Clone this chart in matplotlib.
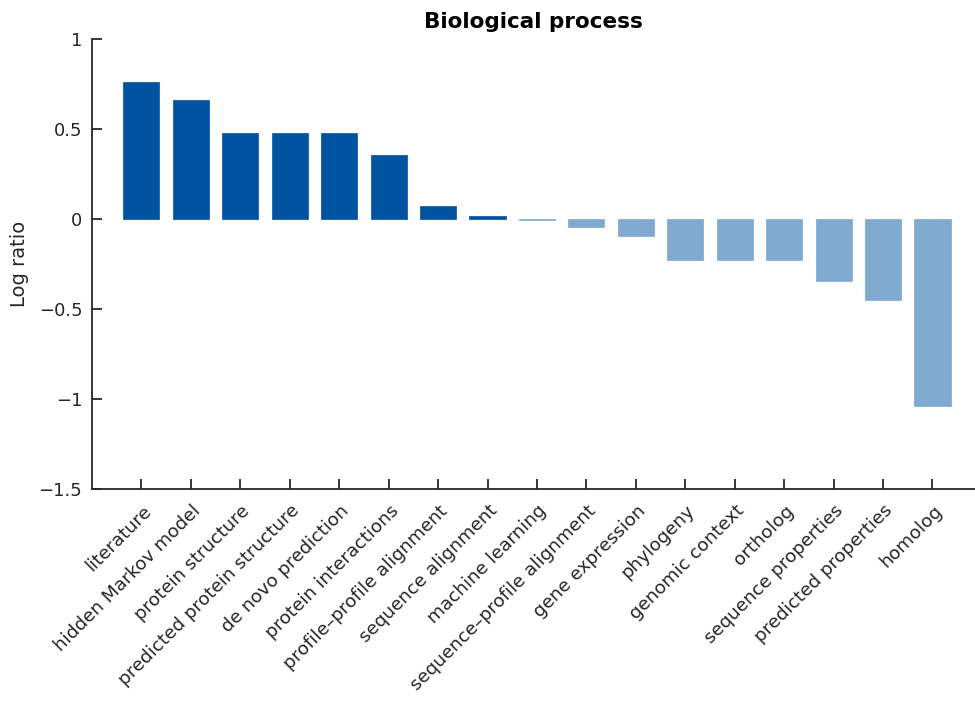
import matplotlib.pyplot as plt
from matplotlib.transforms import ScaledTranslation

categories = ["literature", "hidden Markov model", "protein structure",
              "predicted protein structure", "de novo prediction",
              "protein interactions", "profile\u2013profile alignment",
              "sequence alignment", "machine learning",
              "sequence\u2013profile alignment", "gene expression", "phylogeny",
              "genomic context", "ortholog", "sequence properties",
              "predicted properties", "homolog"]
log_ratio = [0.76, 0.66, 0.475, 0.475, 0.475, 0.355, 0.072, 0.017, -0.006,
             -0.044, -0.094, -0.228, -0.228, -0.228, -0.344, -0.45, -1.04]

DARK = "#0053a0"
LIGHT = "#80a9cf"
INK = "#262626"

plt.rcParams['font.family'] = ['DejaVu Sans']

fig = plt.figure(figsize=(9.75, 7.04), dpi=100)
ax = fig.add_axes([92 / 975, 1 - 489 / 704, (975 - 92) / 975, (489 - 39) / 704])

x = list(range(1, len(categories) + 1))
colors = [DARK if v >= 0 else LIGHT for v in log_ratio]
ax.bar(x, log_ratio, width=0.73, color=colors, edgecolor=colors, linewidth=0.5)

ax.set_xlim(0, 17.86)
ax.set_ylim(-1.5, 1)
ax.set_yticks([-1.5, -1, -0.5, 0, 0.5, 1])
ax.set_yticklabels(["\u22121.5", "\u22121", "\u22120.5", "0", "0.5", "1"])
ax.set_xticks(x)
ax.set_xticklabels([])

# category labels: rotated, right end sitting just below/right of each tick
offset = ScaledTranslation(7 / 100, -19 / 100, fig.dpi_scale_trans)
for xi, name in zip(x, categories):
    ax.text(xi, 0, name, transform=ax.get_xaxis_transform() + offset,
            rotation=45, ha="right", va="center", rotation_mode="anchor",
            fontsize=13.2, color=INK)

for side in ["top", "right"]:
    ax.spines[side].set_visible(False)
for side in ["left", "bottom"]:
    ax.spines[side].set_color(INK)
    ax.spines[side].set_linewidth(1.3)

ax.tick_params(direction="in", length=7, width=1.3, color=INK)
ax.tick_params(axis="y", pad=7, labelsize=13, labelcolor=INK)

ax.set_ylabel("Log ratio", fontsize=14, color=INK, labelpad=7)
ax.set_title("Biological process", fontsize=15.5, fontweight="bold", pad=8)

fig.savefig("out.png", dpi=100)
